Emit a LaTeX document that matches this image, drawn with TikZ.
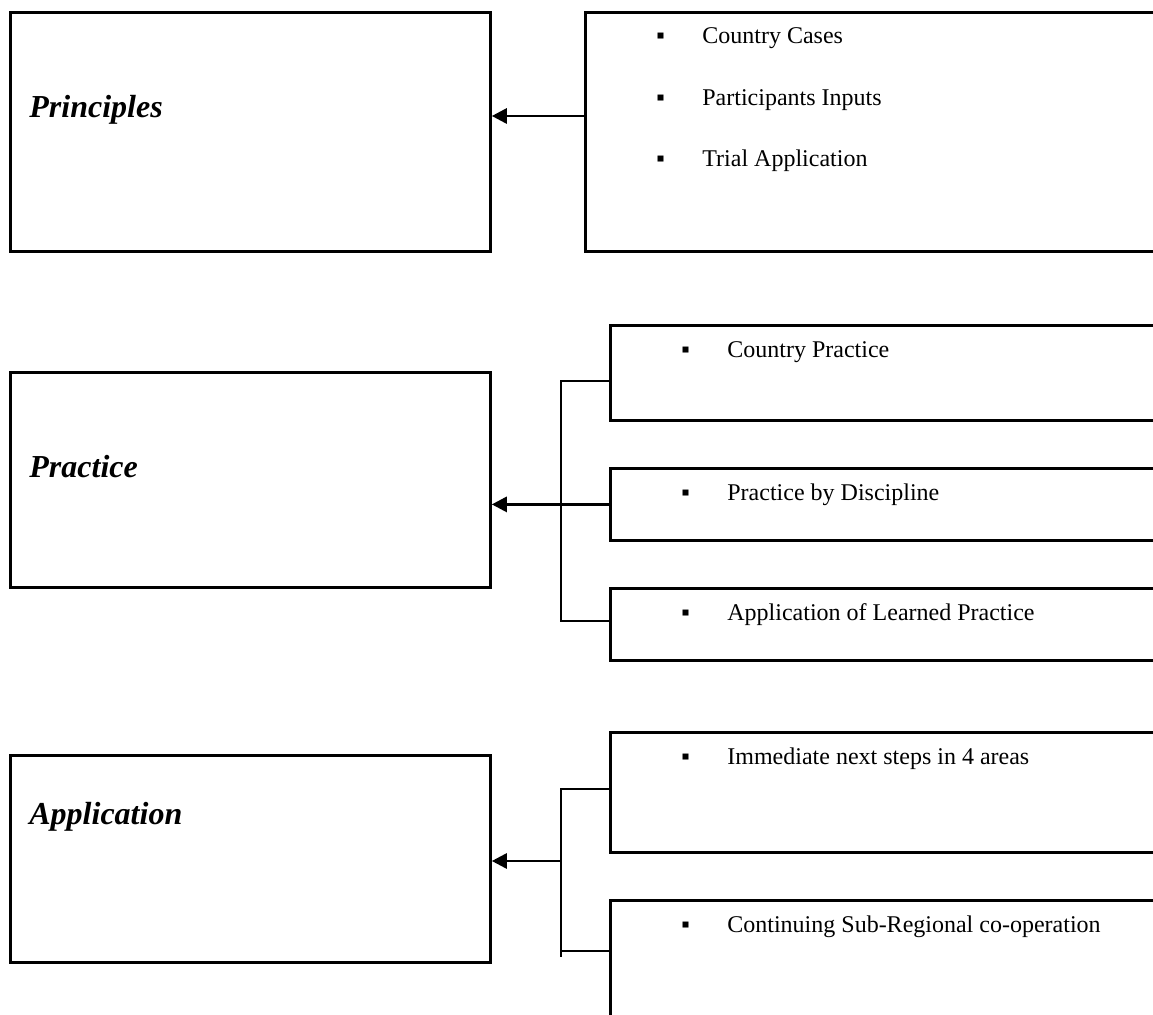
\documentclass[tikz,border=0pt]{standalone}
\usepackage{fontspec}
\setmainfont{Liberation Serif}
\usetikzlibrary{arrows.meta}
\newcommand{\bul}{\makebox[23pt][l]{▪}}

\begin{document}
\begin{tikzpicture}[
    x=0.5pt, y=-0.5pt,
    >={Triangle[length=7.5pt,width=7.5pt]},
    line width=1.4pt,
    topicbox/.style={rectangle, draw, anchor=north west, minimum width=240pt, inner sep=0pt},
    subbox/.style={rectangle, draw, anchor=north west, minimum width=300pt, inner sep=0pt},
    heading/.style={anchor=west, inner sep=0pt, font=\fontsize{16}{19}\selectfont\bfseries\itshape},
    entry/.style={anchor=west, inner sep=0pt, font=\fontsize{12}{14}\selectfont}
]
\useasboundingbox (0,0) rectangle (1153,1015);
\clip (0,0) rectangle (1153,1015);
\fill[white] (0,0) rectangle (1153,1015);




\node[topicbox, minimum height=119.5pt] (pr) at (9,11) {};
\node[heading] (prt) at (28,110) {Principles};
\node[subbox, minimum height=119.5pt] (pr1) at (584,11) {};
\node[entry] (pr1a) at (655,38) {\bul Country Cases};
\node[entry] (pr1b) at (655,100) {\bul Participants Inputs};
\node[entry] (pr1c) at (655,161) {\bul Trial Application};
\coordinate (prj) at (584,116);
\draw[->] (prj) -- (prj -| pr.east);




\node[topicbox, minimum height=107.5pt] (pc) at (9,371) {};
\node[heading] (pct) at (28,467) {Practice};
\node[subbox, minimum height=47.5pt] (pc1) at (609,324) {};
\node[entry] (pc1a) at (680,352) {\bul Country Practice};
\node[subbox, minimum height=36pt] (pc2) at (609,467) {};
\node[entry] (pc2a) at (680,495) {\bul Practice by Discipline};
\node[subbox, minimum height=36pt] (pc3) at (609,587) {};
\node[entry] (pc3a) at (680,615) {\bul Application of Learned Practice};
\coordinate (pcu) at (561,381);
\coordinate (pcd) at (561,621);
\draw (pcu -| pc1.west) -- (pcu) -- (pcd) -- (pcd -| pc3.west);
\draw[->] (pc2.west) -- (pc2.west -| pc.east);




\node[topicbox, minimum height=103.5pt] (ap) at (9,754) {};
\node[heading] (apt) at (28,817) {Application};
\node[subbox, minimum height=60pt] (ap1) at (609,731) {};
\node[entry] (ap1a) at (680,759) {\bul Immediate next steps in 4 areas};
\node[subbox, minimum height=70pt] (ap2) at (609,899) {};
\node[entry] (ap2a) at (680,927) {\bul Continuing Sub-Regional co-operation};
\coordinate (apu) at (561,789);
\coordinate (apd) at (561,951);
\coordinate (ape) at (561,957);
\coordinate (apj) at (561,861);
\draw (apu -| ap1.west) -- (apu) -- (ape);
\draw (apd) -- (apd -| ap2.west);
\draw[->] (apj) -- (apj -| ap.east);

\end{tikzpicture}
\end{document}
